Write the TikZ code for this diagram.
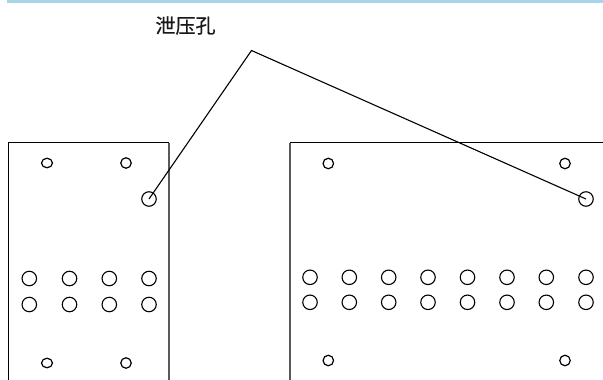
\documentclass[tikz,border=0pt]{standalone}
\usepackage{fontspec}
\newfontfamily\cjk[FakeBold=0.6]{Noto Sans CJK SC}
\usetikzlibrary{shapes.geometric}
\definecolor{band}{RGB}{168,212,232}
\tikzset{
  plate/.style={draw=black,line width=1.1pt},
  plateside/.style={draw=black!65,line width=1.4pt},
  leader/.style={draw=black,line width=1.1pt},
  bighole/.style={draw=black,line width=1.1pt,circle,inner sep=0pt,minimum size=14.5pt},
  smallhole/.style={draw=black,line width=1.2pt,ellipse,inner sep=0pt,minimum width=11pt,minimum height=9.5pt},
  roundhole/.style={draw=black,line width=1.2pt,circle,inner sep=0pt,minimum size=10.5pt},
  caption/.style={font=\cjk\fontsize{20}{20}\selectfont,inner sep=0pt,text=black!90}
}
\begin{document}
\begin{tikzpicture}[x=1pt,y=-1pt]
\useasboundingbox (0,0) rectangle (603,380);
\fill[band] (7,0) rectangle (603,3);
\node[caption] (label) at (185.5,25.5) {泄压孔};
% plates
\draw[plate] (8.5,380) -- (8.5,142.5) -- (169,142.5);
\draw[plateside] (169,142.5) -- (169,380);
\draw[plateside] (290,380) -- (290,142.5);
\draw[plate] (290,142.5) -- (603,142.5);
% left plate holes
\node[smallhole] (ls1) at (47,163) {};
\node[roundhole] (ls2) at (126,163) {};
\node[smallhole] (ls3) at (47,363) {};
\node[roundhole] (ls4) at (126,363) {};
\node[bighole] (lv) at (149,199) {};
\foreach \k/\x in {1/29.3,2/69.5,3/109.3,4/149}{
  \node[bighole] (la\k) at (\x,278.5) {};
  \node[bighole] (lb\k) at (\x,304.5) {};
}
% right plate holes
\node[roundhole] (rs1) at (328.3,163.5) {};
\node[roundhole] (rs2) at (565,163.5) {};
\node[roundhole] (rs3) at (328.3,360.5) {};
\node[roundhole] (rs4) at (565,360.5) {};
\node[bighole] (rv) at (586,199) {};
\foreach \k/\x in {1/310,2/349.3,3/388.7,4/428,5/467.5,6/507,7/546.3,8/586}{
  \node[bighole] (ra\k) at (\x,277.3) {};
  \node[bighole] (rb\k) at (\x,302.3) {};
}
% leaders
\coordinate (apex) at (251.5,50.5);
\draw[leader] (lv.center) -- (apex) -- (rv.center);
\end{tikzpicture}
\end{document}
